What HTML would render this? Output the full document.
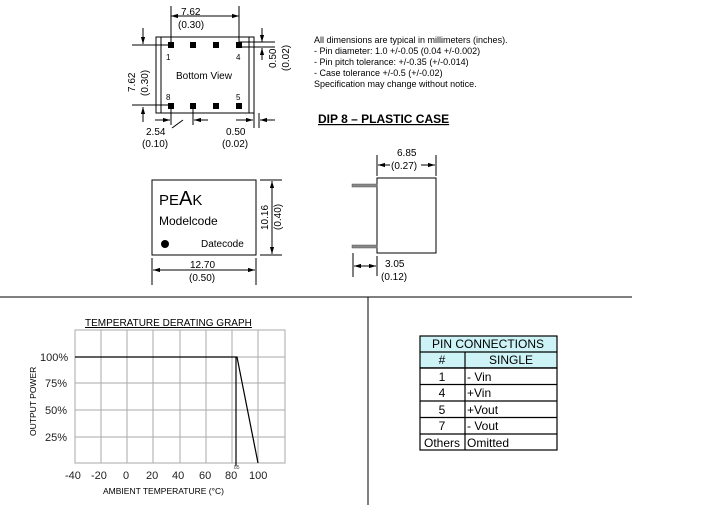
<!DOCTYPE html>
<html><head><style>
body{margin:0;background:#fff;}
svg{display:block;font-family:"Liberation Sans",Arial,sans-serif;}
</style></head><body>
<svg width="713" height="522" viewBox="0 0 713 522" xmlns="http://www.w3.org/2000/svg">
<defs>
<marker id="a" viewBox="0 0 10 10" refX="10" refY="5" markerWidth="7" markerHeight="7" orient="auto-start-reverse"><path d="M0,2 L10,5 L0,8 z" fill="#000"/></marker>
</defs>
<g stroke="#000" stroke-width="1" fill="none">
<rect x="156" y="37" width="98" height="76"/>
<line x1="161" y1="37" x2="161" y2="113"/>
<line x1="249" y1="37" x2="249" y2="113"/>
<line x1="171" y1="6" x2="171" y2="44"/>
<line x1="239" y1="6" x2="239" y2="44"/>
<line x1="171" y1="16" x2="239" y2="16" marker-start="url(#a)" marker-end="url(#a)"/>
<line x1="132" y1="45" x2="171" y2="45"/>
<line x1="132" y1="105" x2="171" y2="105"/>
<line x1="143" y1="28" x2="143" y2="44" marker-end="url(#a)"/>
<line x1="143" y1="122" x2="143" y2="107" marker-end="url(#a)"/>
<line x1="239" y1="42" x2="275" y2="42"/>
<line x1="239" y1="47" x2="275" y2="47"/>
<line x1="262" y1="28" x2="262" y2="42" marker-end="url(#a)"/>
<line x1="262" y1="60" x2="262" y2="48" marker-end="url(#a)"/>
<line x1="171" y1="107" x2="171" y2="125"/>
<line x1="155" y1="120" x2="170" y2="120" marker-end="url(#a)"/>
<line x1="208" y1="120" x2="194" y2="120" marker-end="url(#a)"/>
<line x1="193" y1="107" x2="193" y2="125"/>
<line x1="172" y1="128" x2="183" y2="120"/>
<line x1="254" y1="113" x2="254" y2="128"/>
<line x1="259" y1="113" x2="259" y2="128"/>
<line x1="236" y1="120" x2="253" y2="120" marker-end="url(#a)"/>
<line x1="275" y1="120" x2="260" y2="120" marker-end="url(#a)"/>
<rect x="152" y="180" width="104" height="75"/>
<line x1="260" y1="180" x2="282" y2="180"/>
<line x1="260" y1="255" x2="282" y2="255"/>
<line x1="272" y1="181" x2="272" y2="254" marker-start="url(#a)" marker-end="url(#a)"/>
<line x1="152" y1="258" x2="152" y2="285"/>
<line x1="256" y1="258" x2="256" y2="285"/>
<line x1="153" y1="270" x2="255" y2="270" marker-start="url(#a)" marker-end="url(#a)"/>
<rect x="377" y="178" width="59" height="75"/>
<line x1="377" y1="155" x2="377" y2="176"/>
<line x1="436" y1="155" x2="436" y2="176"/>
<line x1="378" y1="165" x2="390" y2="165" marker-start="url(#a)"/>
<line x1="421" y1="165" x2="435" y2="165" marker-end="url(#a)"/>
<line x1="353" y1="253" x2="353" y2="277"/>
<line x1="377" y1="256" x2="377" y2="276"/>
<line x1="354" y1="266" x2="376" y2="266" marker-start="url(#a)" marker-end="url(#a)"/>
<line x1="0" y1="297" x2="632" y2="297"/>
<line x1="368" y1="297" x2="368" y2="505"/>
</g>
<g fill="#888" stroke="#555" stroke-width="0.5">
<rect x="352" y="184" width="25" height="3"/>
<rect x="352" y="245" width="25" height="3"/>
</g>
<g fill="#000">
<rect x="168" y="42" width="6" height="6"/><rect x="190" y="42" width="6" height="6"/><rect x="213" y="42" width="6" height="6"/><rect x="236" y="42" width="6" height="6"/>
<rect x="168" y="103" width="6" height="6"/><rect x="190" y="103" width="6" height="6"/><rect x="213" y="103" width="6" height="6"/><rect x="236" y="103" width="6" height="6"/>
<circle cx="165" cy="244" r="4"/>
</g>
<g font-size="10" fill="#000">
<text x="181" y="15">7.62</text>
<text x="178" y="28">(0.30)</text>
<text x="166" y="60" font-size="8">1</text>
<text x="236" y="60" font-size="8">4</text>
<text x="166" y="100" font-size="8">8</text>
<text x="236" y="100" font-size="8">5</text>
<text x="176" y="79">Bottom View</text>
<text transform="translate(135,92) rotate(-90)">7.62</text>
<text transform="translate(148,96) rotate(-90)">(0.30)</text>
<text transform="translate(276,68) rotate(-90)">0.50</text>
<text transform="translate(289,71) rotate(-90)">(0.02)</text>
<text x="146" y="135">2.54</text>
<text x="142" y="147">(0.10)</text>
<text x="226" y="135">0.50</text>
<text x="222" y="147">(0.02)</text>
<text x="159" y="205" font-size="15">PE<tspan font-size="20">A</tspan>K</text>
<text x="159" y="225" font-size="12">Modelcode</text>
<text x="201" y="247">Datecode</text>
<text transform="translate(268,230) rotate(-90)">10.16</text>
<text transform="translate(281,230) rotate(-90)">(0.40)</text>
<text x="190" y="268">12.70</text>
<text x="189" y="281">(0.50)</text>
<text x="397" y="156">6.85</text>
<text x="391" y="169">(0.27)</text>
<text x="385" y="267">3.05</text>
<text x="381" y="280">(0.12)</text>
</g>
<g font-size="9" fill="#000">
<text x="314" y="43">All dimensions are typical in millimeters (inches).</text>
<text x="314" y="54">- Pin diameter: 1.0 +/-0.05 (0.04 +/-0.002)</text>
<text x="314" y="65">- Pin pitch tolerance: +/-0.35 (+/-0.014)</text>
<text x="314" y="76">- Case tolerance +/-0.5 (+/-0.02)</text>
<text x="314" y="87">Specification may change without notice.</text>
</g>
<text x="318" y="123" font-size="12" font-weight="bold" text-decoration="underline">DIP 8 – PLASTIC CASE</text>
<text x="85" y="326" font-size="10" text-decoration="underline">TEMPERATURE DERATING GRAPH</text>
<g stroke="#aaa" stroke-width="1">
<rect x="75" y="330" width="210" height="133" fill="none"/>
<line x1="101" y1="330" x2="101" y2="463"/><line x1="127" y1="330" x2="127" y2="463"/><line x1="153" y1="330" x2="153" y2="463"/><line x1="180" y1="330" x2="180" y2="463"/><line x1="206" y1="330" x2="206" y2="463"/><line x1="232" y1="330" x2="232" y2="463"/><line x1="258" y1="330" x2="258" y2="463"/>
<line x1="75" y1="357" x2="285" y2="357"/><line x1="75" y1="383" x2="285" y2="383"/><line x1="75" y1="410" x2="285" y2="410"/><line x1="75" y1="437" x2="285" y2="437"/>
</g>
<polyline points="75,357 237,357 258,463" fill="none" stroke="#000" stroke-width="1.2"/>
<line x1="236" y1="357" x2="236" y2="466" stroke="#000" stroke-width="1.2"/>
<g font-size="11" fill="#222">
<text x="40" y="361">100%</text><text x="45" y="387">75%</text><text x="45" y="414">50%</text><text x="45" y="441">25%</text>
<text x="65" y="479">-40</text><text x="91" y="479">-20</text><text x="123" y="479">0</text><text x="146" y="479">20</text><text x="172" y="479">40</text><text x="199" y="479">60</text><text x="225" y="479">80</text><text x="249" y="479">100</text>
</g>
<text x="234" y="469" font-size="5" fill="#444">85</text>
<text x="103" y="494" font-size="8.5">AMBIENT TEMPERATURE (°C)</text>
<text transform="translate(36,436) rotate(-90)" font-size="8.5">OUTPUT POWER</text>
<g stroke="#000" stroke-width="1.2">
<rect x="420" y="336" width="137" height="32" fill="#cdf3f7"/>
<rect x="420" y="368" width="137" height="82" fill="#fff"/>
<line x1="420" y1="352" x2="557" y2="352"/>
<line x1="465" y1="352" x2="465" y2="450"/>
<line x1="420" y1="368" x2="557" y2="368"/>
<line x1="420" y1="384.5" x2="557" y2="384.5"/>
<line x1="420" y1="401" x2="557" y2="401"/>
<line x1="420" y1="417.5" x2="557" y2="417.5"/>
<line x1="420" y1="434" x2="557" y2="434"/>
</g>
<g font-size="12" fill="#000">
<text x="488" y="348" text-anchor="middle">PIN CONNECTIONS</text>
<text x="442" y="364" text-anchor="middle">#</text><text x="511" y="364" text-anchor="middle">SINGLE</text>
<text x="442" y="381" text-anchor="middle">1</text><text x="467" y="381">- Vin</text>
<text x="442" y="397" text-anchor="middle">4</text><text x="467" y="397">+Vin</text>
<text x="442" y="414" text-anchor="middle">5</text><text x="467" y="414">+Vout</text>
<text x="442" y="430" text-anchor="middle">7</text><text x="467" y="430">- Vout</text>
<text x="442" y="447" text-anchor="middle">Others</text><text x="467" y="447">Omitted</text>
</g>
</svg>
</body></html>
